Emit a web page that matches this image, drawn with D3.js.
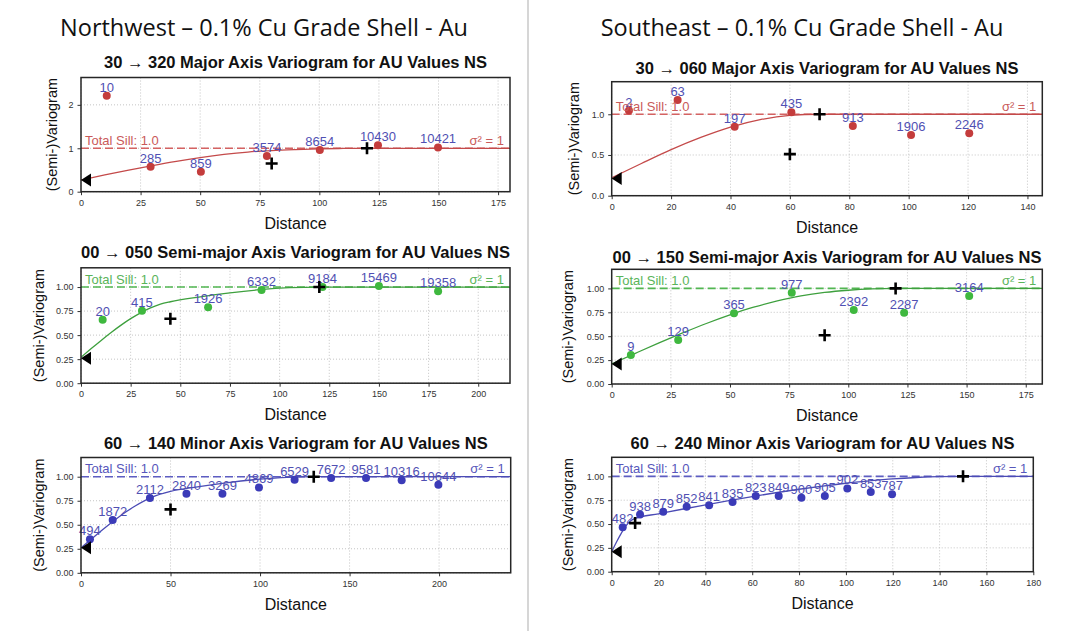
<!DOCTYPE html>
<html><head><meta charset="utf-8">
<script src="https://cdn.jsdelivr.net/npm/d3@7"></script>
<style>
body{margin:0;background:#fff;}
svg{display:block;font-family:"Liberation Sans",Arial,sans-serif;}
</style></head><body>
<svg id="c" width="1065" height="631"></svg>
<script>
// ---------------- DATA ----------------
const headers = ["Northwest – 0.1% Cu Grade Shell - Au", "Southeast – 0.1% Cu Grade Shell - Au"];
const titles = [
  "30 → 320 Major Axis Variogram for AU Values NS",
  "00 → 050 Semi-major Axis Variogram for AU Values NS",
  "60 → 140 Minor Axis Variogram for AU Values NS",
  "30 → 060 Major Axis Variogram for AU Values NS",
  "00 → 150 Semi-major Axis Variogram for AU Values NS",
  "60 → 240 Minor Axis Variogram for AU Values NS"
];

// NW major (red)
const nwMajorLag   = [10.8, 29.2, 50.3, 78.0, 100.2, 124.6, 149.8];
const nwMajorGamma = [2.21, 0.575, 0.46, 0.82, 0.96, 1.07, 1.02];
const nwMajorPairs = [10, 285, 859, 3574, 8654, 10430, 10421];
const nwMajorModelH = [0, 10, 20, 30, 40, 50, 60, 70, 80, 90, 100, 110, 120, 180];
const nwMajorModelG = [0.27, 0.385, 0.496, 0.602, 0.700, 0.786, 0.858, 0.913, 0.948, 0.970, 0.986, 0.996, 1.0, 1.0];
const nwMajorRangeH = [80, 120];
const nwMajorRangeG = [0.65, 1.0];
const nwMajorNugget = 0.27;

// NW semi-major (green)
const nwSemiLag   = [10.9, 30.7, 64.0, 90.9, 121.6, 150.0, 179.8];
const nwSemiGamma = [0.66, 0.753, 0.79, 0.97, 1.0, 1.01, 0.955];
const nwSemiPairs = [20, 415, 1926, 6332, 9184, 15469, 19358];
const nwSemiModelH = [0, 5, 10, 15, 20, 25, 30, 35, 40, 45, 60, 75, 90, 105, 120, 216];
const nwSemiModelG = [0.27, 0.357, 0.442, 0.524, 0.601, 0.671, 0.732, 0.783, 0.822, 0.847, 0.897, 0.939, 0.972, 0.993, 1.0, 1.0];
const nwSemiRangeH = [45, 120];
const nwSemiRangeG = [0.67, 1.0];
const nwSemiNugget = 0.26;

// NW minor (blue)
const nwMinorLag   = [5.0, 17.7, 38.5, 58.9, 79.0, 99.4, 119.3, 139.7, 159.2, 179.1, 199.6];
const nwMinorGamma = [0.35, 0.55, 0.778, 0.823, 0.823, 0.889, 0.969, 0.986, 0.986, 0.962, 0.917];
const nwMinorPairs = [494, 1872, 2112, 2840, 3269, 4869, 6529, 7672, 9581, 10316, 10644];
const nwMinorModelH = [0, 5, 10, 15, 20, 25, 30, 40, 50, 65, 80, 100, 115, 130, 240];
const nwMinorModelG = [0.26, 0.339, 0.418, 0.493, 0.565, 0.632, 0.692, 0.790, 0.847, 0.894, 0.934, 0.975, 0.994, 1.0, 1.0];
const nwMinorRangeH = [50, 130];
const nwMinorRangeG = [0.66, 1.0];
const nwMinorNugget = 0.26;

// SE major (red)
const seMajorLag   = [5.8, 22.2, 41.4, 60.5, 81.2, 100.8, 120.4];
const seMajorGamma = [1.045, 1.176, 0.848, 1.025, 0.856, 0.746, 0.767];
const seMajorPairs = [2, 63, 197, 435, 913, 1906, 2246];
const seMajorModelH = [0, 10, 20, 30, 40, 50, 60, 70, 145];
const seMajorModelG = [0.22, 0.395, 0.565, 0.715, 0.842, 0.934, 0.986, 1.0, 1.0];
const seMajorRangeH = [60, 70];
const seMajorRangeG = [0.51, 1.0];
const seMajorNugget = 0.21;

// SE semi-major (green)
const seSemiLag   = [8.1, 28.1, 51.7, 76.1, 102.3, 123.6, 151.1];
const seSemiGamma = [0.303, 0.46, 0.739, 0.954, 0.773, 0.745, 0.92];
const seSemiPairs = [9, 129, 365, 977, 2392, 2287, 3164];
const seSemiModelH = [0, 10, 20, 30, 40, 50, 60, 70, 80, 90, 100, 110, 120, 182];
const seSemiModelG = [0.21, 0.321, 0.430, 0.534, 0.633, 0.723, 0.803, 0.869, 0.922, 0.958, 0.981, 0.995, 1.0, 1.0];
const seSemiRangeH = [90, 120];
const seSemiRangeG = [0.51, 1.0];
const seSemiNugget = 0.21;

// SE minor (blue)
const seMinorLag   = [4.7, 12.1, 22.0, 32.0, 41.6, 51.6, 61.5, 71.3, 81.0, 91.0, 100.6, 110.6, 119.7];
const seMinorGamma = [0.466, 0.60, 0.629, 0.682, 0.696, 0.731, 0.794, 0.794, 0.777, 0.794, 0.873, 0.837, 0.813];
const seMinorPairs = [482, 938, 879, 852, 841, 835, 823, 849, 900, 905, 902, 853, 787];
const seMinorModelH = [0, 2, 4, 6, 8, 10, 20, 30, 40, 50, 60, 70, 80, 90, 100, 110, 120, 130, 140, 150, 180];
const seMinorModelG = [0.21, 0.309, 0.400, 0.477, 0.532, 0.559, 0.607, 0.655, 0.701, 0.746, 0.788, 0.828, 0.865, 0.898, 0.928, 0.952, 0.973, 0.988, 0.997, 1.0, 1.0];
const seMinorRangeH = [10, 150];
const seMinorRangeG = [0.51, 1.0];
const seMinorNugget = 0.21;

// ticks
const nwMajorXTicks = [0, 25, 50, 75, 100, 125, 150, 175];
const nwMajorYTicks = [0, 1, 2];
const nwSemiXTicks  = [0, 25, 50, 75, 100, 125, 150, 175, 200];
const nwMinorXTicks = [0, 50, 100, 150, 200];
const seMajorXTicks = [0, 20, 40, 60, 80, 100, 120, 140];
const seMajorYTicks = [0, 0.5, 1.0];
const seSemiXTicks  = [0, 25, 50, 75, 100, 125, 150, 175];
const seMinorXTicks = [0, 20, 40, 60, 80, 100, 120, 140, 160, 180];
const quarterYTicks = [0, 0.25, 0.5, 0.75, 1.0];
const totalSill = 1.0;

// ---------------- STYLE ----------------
const palette = {
  red:   {pt: "#c43c3c", line: "#c44a4a", sill: "#d46262", txt: "#c95a5a"},
  green: {pt: "#3fb83f", line: "#3ea03e", sill: "#52b652", txt: "#5ab45a"},
  blue:  {pt: "#3b3bb8", line: "#4b4bb5", sill: "#5d5dc2", txt: "#5757bb"}
};
const labelColor = "#5050b3";

const panels = [
  {title: titles[0], lag: nwMajorLag, gamma: nwMajorGamma, pairs: nwMajorPairs, mh: nwMajorModelH, mg: nwMajorModelG,
   rh: nwMajorRangeH, rg: nwMajorRangeG, nug: nwMajorNugget, xt: nwMajorXTicks, yt: nwMajorYTicks, yfmt: d3.format("d"),
   col: palette.red, xd: [0, 180], yd: [0, 2.63], L: 81, R: 510, T: 77.5, B: 191.7, titleY: 68, ylabX: 52},
  {title: titles[1], lag: nwSemiLag, gamma: nwSemiGamma, pairs: nwSemiPairs, mh: nwSemiModelH, mg: nwSemiModelG,
   rh: nwSemiRangeH, rg: nwSemiRangeG, nug: nwSemiNugget, xt: nwSemiXTicks, yt: quarterYTicks, yfmt: d3.format(".2f"),
   col: palette.green, xd: [0, 216], yd: [0, 1.2], L: 81, R: 510, T: 267.8, B: 383.2, titleY: 258, ylabX: 39},
  {title: titles[2], lag: nwMinorLag, gamma: nwMinorGamma, pairs: nwMinorPairs, mh: nwMinorModelH, mg: nwMinorModelG,
   rh: nwMinorRangeH, rg: nwMinorRangeG, nug: nwMinorNugget, xt: nwMinorXTicks, yt: quarterYTicks, yfmt: d3.format(".2f"),
   col: palette.blue, xd: [0, 240], yd: [0, 1.2], L: 81, R: 510.7, T: 457.5, B: 572.8, titleY: 449, ylabX: 39},
  {title: titles[3], lag: seMajorLag, gamma: seMajorGamma, pairs: seMajorPairs, mh: seMajorModelH, mg: seMajorModelG,
   rh: seMajorRangeH, rg: seMajorRangeG, nug: seMajorNugget, xt: seMajorXTicks, yt: seMajorYTicks, yfmt: d3.format(".1f"),
   col: palette.red, xd: [0, 145], yd: [0, 1.4], L: 611.7, R: 1042.3, T: 81.7, B: 195.7, titleY: 73.5, ylabX: 574},
  {title: titles[4], lag: seSemiLag, gamma: seSemiGamma, pairs: seSemiPairs, mh: seSemiModelH, mg: seSemiModelG,
   rh: seSemiRangeH, rg: seSemiRangeG, nug: seSemiNugget, xt: seSemiXTicks, yt: quarterYTicks, yfmt: d3.format(".2f"),
   col: palette.green, xd: [0, 182], yd: [0, 1.2], L: 611.7, R: 1042.3, T: 269.3, B: 384, titleY: 262.5, ylabX: 567.5},
  {title: titles[5], lag: seMinorLag, gamma: seMinorGamma, pairs: seMinorPairs, mh: seMinorModelH, mg: seMinorModelG,
   rh: seMinorRangeH, rg: seMinorRangeG, nug: seMinorNugget, xt: seMinorXTicks, yt: quarterYTicks, yfmt: d3.format(".2f"),
   col: palette.blue, xd: [0, 180], yd: [0, 1.2], L: 611.7, R: 1033.3, T: 457.3, B: 571.7, titleY: 449, ylabX: 567.5}
];

const svg = d3.select("#c");

// table lines
svg.append("line").attr("x1", 528).attr("x2", 528).attr("y1", 0).attr("y2", 631)
  .attr("stroke", "#c8c8c8").attr("stroke-width", 1.5);

// headers
[[264, headers[0]], [802, headers[1]]].forEach(([cx, t]) => {
  svg.append("text").attr("x", cx).attr("y", 36).attr("text-anchor", "middle")
    .style("font-family", "'Open Sans','Noto Sans',sans-serif").style("font-size", "23.5px")
    .attr("fill", "#111").text(t);
});

panels.forEach((p, i) => {
  const x = d3.scaleLinear().domain(p.xd).range([p.L, p.R]);
  const y = d3.scaleLinear().domain(p.yd).range([p.B, p.T]);
  const g = svg.append("g");
  const clipId = "clip" + i;
  svg.append("clipPath").attr("id", clipId).append("rect")
    .attr("x", p.L).attr("y", p.T).attr("width", p.R - p.L).attr("height", p.B - p.T);

  // grid
  g.append("g").selectAll("line").data(p.xt).join("line")
    .attr("x1", d => x(d)).attr("x2", d => x(d)).attr("y1", p.T).attr("y2", p.B)
    .attr("stroke", "#b5b5b5").attr("stroke-width", 0.8).attr("stroke-dasharray", "1,2");
  g.append("g").selectAll("line").data(p.yt).join("line")
    .attr("x1", p.L).attr("x2", p.R).attr("y1", d => y(d)).attr("y2", d => y(d))
    .attr("stroke", "#b5b5b5").attr("stroke-width", 0.8).attr("stroke-dasharray", "1,2");

  // axes
  const ax = g.append("g").attr("transform", `translate(0,${p.B})`)
    .call(d3.axisBottom(x).tickValues(p.xt).tickSize(3.5).tickPadding(4).tickFormat(d3.format("d")));
  const ay = g.append("g").attr("transform", `translate(${p.L},0)`)
    .call(d3.axisLeft(y).tickValues(p.yt).tickSize(3.5).tickPadding(4).tickFormat(p.yfmt));
  [ax, ay].forEach(a => {
    a.select(".domain").remove();
    a.selectAll("line").attr("stroke", "#333");
    a.selectAll("text").style("font-size", "9px").attr("fill", "#333")
      .style("font-family", "'Liberation Sans',Arial,sans-serif");
  });

  const pg = g.append("g").attr("clip-path", `url(#${clipId})`);
  // sill line
  pg.append("line").attr("x1", p.L).attr("x2", p.R).attr("y1", y(totalSill)).attr("y2", y(totalSill))
    .attr("stroke", p.col.sill).attr("stroke-width", 1.6).attr("stroke-dasharray", "8,4");
  // model curve
  const model = p.mh.map((h, k) => [h, p.mg[k]]);
  pg.append("path").datum(model)
    .attr("d", d3.line().x(d => x(d[0])).y(d => y(d[1])).curve(d3.curveMonotoneX))
    .attr("fill", "none").attr("stroke", p.col.line).attr("stroke-width", 1.3);
  // points
  pg.selectAll("circle").data(p.lag).join("circle")
    .attr("cx", d => x(d)).attr("cy", (d, k) => y(p.gamma[k])).attr("r", 4)
    .attr("fill", p.col.pt);

  // labels
  g.append("g").selectAll("text").data(p.pairs).join("text")
    .attr("x", (d, k) => x(p.lag[k])).attr("y", (d, k) => y(p.gamma[k]) - 4)
    .attr("text-anchor", "middle").style("font-size", "13px").attr("fill", labelColor)
    .text(d => d);

  // sill texts
  g.append("text").attr("x", p.L + 4).attr("y", y(totalSill) - 3.5).style("font-size", "13px")
    .attr("fill", p.col.txt).text("Total Sill: " + d3.format(".1f")(totalSill));
  g.append("text").attr("x", p.R - 6).attr("y", y(totalSill) - 3.5).attr("text-anchor", "end")
    .style("font-size", "13px").attr("fill", p.col.txt).text("σ² = " + totalSill);

  // range markers (+)
  p.rh.forEach((h, k) => {
    const cx = x(h), cy = y(p.rg[k]);
    g.append("path").attr("d", `M${cx - 6},${cy}H${cx + 6}M${cx},${cy - 6}V${cy + 6}`)
      .attr("stroke", "#000").attr("stroke-width", 2.6);
  });

  // frame
  g.append("rect").attr("x", p.L).attr("y", p.T).attr("width", p.R - p.L).attr("height", p.B - p.T)
    .attr("fill", "none").attr("stroke", "#262626").attr("stroke-width", 1.5);

  // nugget triangle
  const ny = y(p.nug), nx = x(0);
  g.append("path").attr("d", `M${nx},${ny}L${nx + 10},${ny - 6.5}L${nx + 10},${ny + 6.5}Z`).attr("fill", "#000");

  // title
  g.append("text").attr("x", (p.L + p.R) / 2).attr("y", p.titleY).attr("text-anchor", "middle")
    .style("font-size", "16.5px").style("font-weight", "bold").attr("fill", "#111").text(p.title);
  // x label
  g.append("text").attr("x", (p.L + p.R) / 2).attr("y", p.B + 37).attr("text-anchor", "middle")
    .style("font-size", "16px").attr("fill", "#111").text("Distance");
  // y label
  g.append("text").attr("transform", `translate(${p.ylabX},${(p.T + p.B) / 2}) rotate(-90)`)
    .attr("dy", "0.35em").attr("text-anchor", "middle").style("font-size", "14.5px").attr("fill", "#111")
    .text("(Semi-)Variogram");
});
</script>
</body></html>
